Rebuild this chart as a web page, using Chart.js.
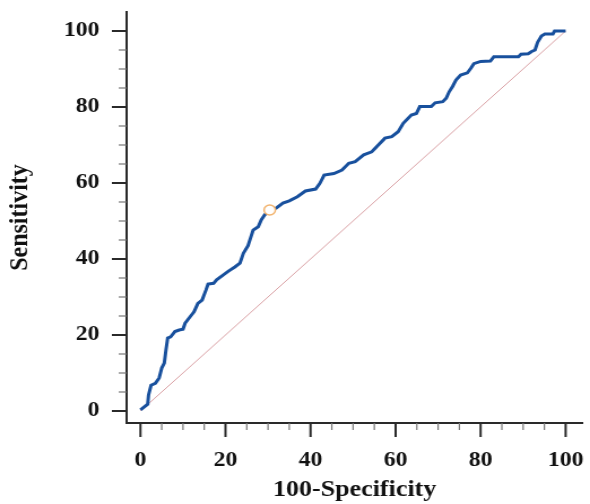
<!DOCTYPE html>
<html>
<head>
<meta charset="utf-8">
<script src="https://cdn.jsdelivr.net/npm/chart.js@4/dist/chart.umd.min.js"></script>
<style>
  html, body { margin: 0; padding: 0; background: #fff; }
</style>
</head>
<body>
<canvas id="roc" width="522" height="504" style="display:block; width:590px; height:504px;"></canvas>
<script>
// ROC curve
const fpr = [
    0, 0.9, 1.7, 1.9, 2.5, 3.5, 4.4, 5.0, 5.6, 6.0,
    6.4, 7.1, 8.1, 9.1, 10.0, 10.5, 11.4, 12.6, 13.5, 14.5,
    15.4, 15.9, 17.2, 17.9, 19.1, 20.7, 22.2, 23.4, 24.2, 25.3,
    26.5, 27.7, 28.4, 29.2, 30.4, 31.9, 33.5, 35.0, 36.9, 38.8,
    41.2, 42.2, 43.2, 45.5, 47.4, 49.0, 50.5, 52.5, 54.4, 55.6,
    57.5, 59.1, 60.6, 61.8, 63.7, 64.9, 65.7, 68.4, 69.3, 71.1,
    71.9, 72.6, 73.4, 74.2, 75.3, 76.9, 77.7, 78.4, 80.0, 82.3,
    83.1, 88.9, 89.5, 91.2, 92.0, 92.8, 93.4, 94.3, 95.1, 97.0,
    97.4, 100
];
const sensitivity = [
    0.3, 1.1, 1.8, 4.2, 6.8, 7.3, 8.7, 11.3, 12.6, 16.1,
    19.2, 19.5, 20.9, 21.3, 21.5, 23.1, 24.4, 26.1, 28.3, 29.2,
    31.8, 33.4, 33.6, 34.5, 35.5, 36.8, 37.9, 38.9, 41.5, 43.5,
    47.6, 48.5, 50.3, 51.6, 52.9, 53.4, 54.7, 55.3, 56.4, 57.9,
    58.4, 59.9, 62.1, 62.5, 63.4, 65.2, 65.6, 67.4, 68.2, 69.6,
    71.8, 72.2, 73.5, 75.7, 77.9, 78.3, 80.1, 80.1, 81.1, 81.4,
    82.3, 84.0, 85.4, 87.1, 88.4, 89.0, 90.2, 91.4, 92.0, 92.1,
    93.2, 93.2, 93.9, 94.0, 94.6, 95.0, 97.0, 98.7, 99.2, 99.2,
    100, 100
];
const diagonalX = [0, 100];
const diagonalY = [0, 100];
const criterionX = [30.4];
const criterionY = [52.9];

const tickLabels = [0, 20, 40, 60, 80, 100];
const minorTicks = [0, 5, 10, 15, 20, 25, 30, 35, 40, 45, 50, 55, 60, 65, 70, 75, 80, 85, 90, 95, 100];

const serif = '"Liberation Serif", "Times New Roman", serif';

function toPoints(xs, ys) {
    return xs.map((v, i) => ({x: v, y: ys[i]}));
}

// tick marks: long ones at labels, short ones between
const tickMarks = {
    id: 'tickMarks',
    afterDraw(chart) {
        const {ctx, chartArea} = chart;
        const x = chart.scales.x, y = chart.scales.y;
        ctx.save();
        minorTicks.forEach(v => {
            const major = tickLabels.includes(v);
            ctx.strokeStyle = major ? '#2a2a2a' : '#777';
            ctx.lineWidth = major ? 2 : 1.2;
            const px = x.getPixelForValue(v);
            ctx.beginPath();
            ctx.moveTo(px, chartArea.bottom);
            ctx.lineTo(px, chartArea.bottom + (major ? 14 : 7));
            ctx.stroke();
            const py = y.getPixelForValue(v);
            ctx.beginPath();
            ctx.moveTo(chartArea.left, py);
            ctx.lineTo(chartArea.left - (major ? 13 : 7), py);
            ctx.stroke();
        });
        ctx.restore();
    }
};

const axisTicks = (scale) => {
    scale.ticks = tickLabels.map(v => ({value: v}));
};

new Chart(document.getElementById('roc'), {
    type: 'scatter',
    data: {
        datasets: [
            {
                label: 'criterion',
                data: toPoints(criterionX, criterionY),
                pointRadius: 5,
                pointBorderWidth: 1.5,
                pointBorderColor: '#f2b36e',
                pointBackgroundColor: '#ffffff',
                order: 0
            },
            {
                label: 'ROC',
                data: toPoints(fpr, sensitivity),
                showLine: true,
                borderColor: '#18509d',
                borderWidth: 3,
                pointRadius: 0,
                order: 1
            },
            {
                label: 'reference',
                data: toPoints(diagonalX, diagonalY),
                showLine: true,
                borderColor: '#d9a0a4',
                borderWidth: 1,
                pointRadius: 0,
                order: 2
            }
        ]
    },
    options: {
        responsive: false,
        animation: false,
        devicePixelRatio: 1,
        layout: {padding: {top: 12, right: 2, left: 0, bottom: 0}},
        plugins: {
            legend: {display: false},
            tooltip: {enabled: false}
        },
        scales: {
            x: {
                type: 'linear',
                min: -3.26,
                max: 104,
                afterBuildTicks: axisTicks,
                afterFit: (scale) => {
                    scale.height = 81;
                    scale.paddingLeft = 0;
                    scale.paddingRight = 0;
                },
                border: {display: true, color: '#2a2a2a', width: 2},
                grid: {display: false, drawTicks: false},
                ticks: {
                    padding: 25,
                    color: '#111',
                    font: {family: serif, size: 21, weight: 'bold'}
                },
                title: {
                    display: true,
                    text: '100-Specificity',
                    color: '#111',
                    padding: {top: 0, bottom: 0},
                    font: {family: serif, size: 23, weight: 'bold'}
                }
            },
            y: {
                type: 'linear',
                min: -3.16,
                max: 105,
                afterBuildTicks: axisTicks,
                afterFit: (scale) => {
                    scale.width = 112;
                    scale.paddingTop = 0;
                    scale.paddingBottom = 0;
                },
                border: {display: true, color: '#2a2a2a', width: 2},
                grid: {display: false, drawTicks: false},
                ticks: {
                    padding: 24,
                    color: '#111',
                    font: {family: serif, size: 21, weight: 'bold'}
                },
                title: {
                    display: true,
                    text: 'Sensitivity',
                    color: '#111',
                    padding: {top: 3, bottom: 0},
                    font: {family: serif, size: 24, weight: 'bold'}
                }
            }
        }
    },
    plugins: [tickMarks]
});
</script>
</body>
</html>
